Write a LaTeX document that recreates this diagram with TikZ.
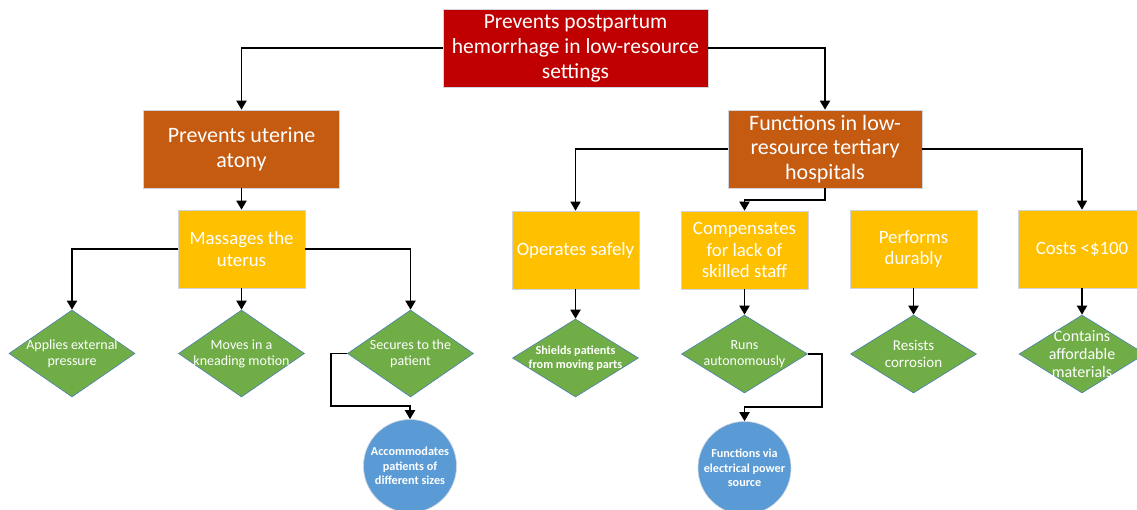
\documentclass[tikz,border=0pt]{standalone}
\usepackage{fontspec}
\setmainfont{Carlito}
\usetikzlibrary{shapes.geometric,arrows.meta,calc}
\definecolor{cred}{HTML}{C00000}
\definecolor{corange}{HTML}{C55A11}
\definecolor{cyellow}{HTML}{FFC000}
\definecolor{cgreen}{HTML}{70AD47}
\definecolor{cblue}{HTML}{5B9BD5}
\definecolor{cedge}{HTML}{D0D4DC}
\definecolor{cdedge}{HTML}{4A7FB0}
\tikzset{
  box/.style={rectangle, draw=cedge, line width=0.6pt, text=white, align=center, inner sep=2pt},
  redbox/.style={box, fill=cred, minimum width=265pt, minimum height=78pt, font=\fontsize{21.5}{25}\selectfont},
  orbox/.style={box, fill=corange, minimum width=196pt, minimum height=78pt, font=\fontsize{22}{24.5}\selectfont},
  yelbox/.style={box, fill=cyellow, minimum width=127pt, minimum height=78pt, font=\fontsize{18.8}{21.5}\selectfont},
  dia/.style={diamond, draw=cdedge, line width=0.6pt, fill=cgreen, minimum width=126pt, minimum height=84pt, inner sep=0pt},
  dtext/.style={text=white, align=center, font=\fontsize{14}{16}\selectfont},
  circ/.style={circle, draw=cedge, line width=0.6pt, fill=cblue, minimum size=93pt, inner sep=0pt, text=white, align=center, font=\bfseries\fontsize{12.2}{14.3}\selectfont},
  arr/.style={draw=black, line width=1.9pt, -{Triangle[length=9pt,width=10pt]}},
  thinarr/.style={draw=black, line width=1.4pt, -{Triangle[length=9pt,width=10pt]}},
}
\begin{document}
\begin{tikzpicture}[x=1pt,y=-1pt]
\useasboundingbox (0,0) rectangle (1137,510);
\clip (0,0) rectangle (1137,510);
% top
\node[redbox] (top) at (575.5,48) {Prevents postpartum\\hemorrhage in low-resource\\settings};
\node[orbox] (ut) at (241.5,149) {Prevents uterine\\atony};
\node[orbox, minimum width=194pt] (fn) at (825,149) {Functions in low-\\resource tertiary\\hospitals};
% yellow boxes
\node[yelbox] (mas) at (241.5,249) {Massages the\\uterus};
\node[yelbox] (op) at (575.5,250) {Operates safely};
\node[yelbox] (comp) at (744.5,250) {Compensates\\for lack of\\skilled staff};
\node[yelbox] (perf) at (913.5,249) {Performs\\durably};
\node[yelbox] (cost) at (1082,249) {Costs <\$100};
% diamonds
\node[dia, minimum height=87pt] (d1) at (72,353.5) {};
\node[dtext] (t1) at (d1.center) {Applies external\\pressure};
\node[dia, minimum height=87pt] (d2) at (241.5,353.5) {};
\node[dtext] (t2) at (d2.center) {Moves in a\\kneading motion};
\node[dia, minimum height=87pt] (d3) at (410.5,353.5) {};
\node[dtext] (t3) at (d3.center) {Secures to the\\patient};
\node[dia, minimum height=78pt] (d4) at (575.5,358) {};
\node[dtext, font=\bfseries\fontsize{12.2}{13.5}\selectfont] (t4) at (d4.center) {Shields patients\\from moving parts};
\node[dia, minimum height=78pt] (d5) at (744.5,354) {};
\node[dtext] (t5) at (d5.center) {Runs\\autonomously};
\node[dia, minimum height=78pt] (d6) at (913.5,354) {};
\node[dtext, font=\fontsize{15}{17.5}\selectfont] (t6) at (d6.center) {Resists\\corrosion};
\node[dia, minimum height=78pt] (d7) at (1082,354) {};
\node[dtext, font=\fontsize{16}{17.7}\selectfont] (t7) at (d7.center) {Contains\\affordable\\materials};
% circles
\node[circ] (c1) at (410,466) {Accommodates\\patients of\\different sizes};
\node[circ] (c2) at (744.5,468) {Functions via\\electrical power\\source};
% connectors
\draw[arr] (top.west) -| (ut.north);
\draw[arr] (top.east) -| (fn.north);
\draw[arr] (ut.south) -- (mas.north);
\draw[arr] (mas.west) -| (d1.north);
\draw[arr] (mas.south) -- (d2.north);
\draw[arr] (mas.east) -| (d3.north);
\draw[arr] (d3.west) -- ++(-16,0) |- ($(c1.north)+(0,-13)$) -- (c1.north);
\draw[thinarr] (fn.west) -| (op.north);
\draw[thinarr] (fn.east) -| (cost.north);
\draw[arr] (fn.south) -- ++(0,12) -| (comp.north);
\draw[arr] (op.south) -- (d4.north);
\draw[arr] (comp.south) -- (d5.north);
\draw[arr] (perf.south) -- (d6.north);
\draw[arr] (cost.south) -- (d7.north);
\draw[arr] (d5.east) -- ++(14,0) |- ($(c2.north)+(0,-14)$) -- (c2.north);
\end{tikzpicture}
\end{document}
